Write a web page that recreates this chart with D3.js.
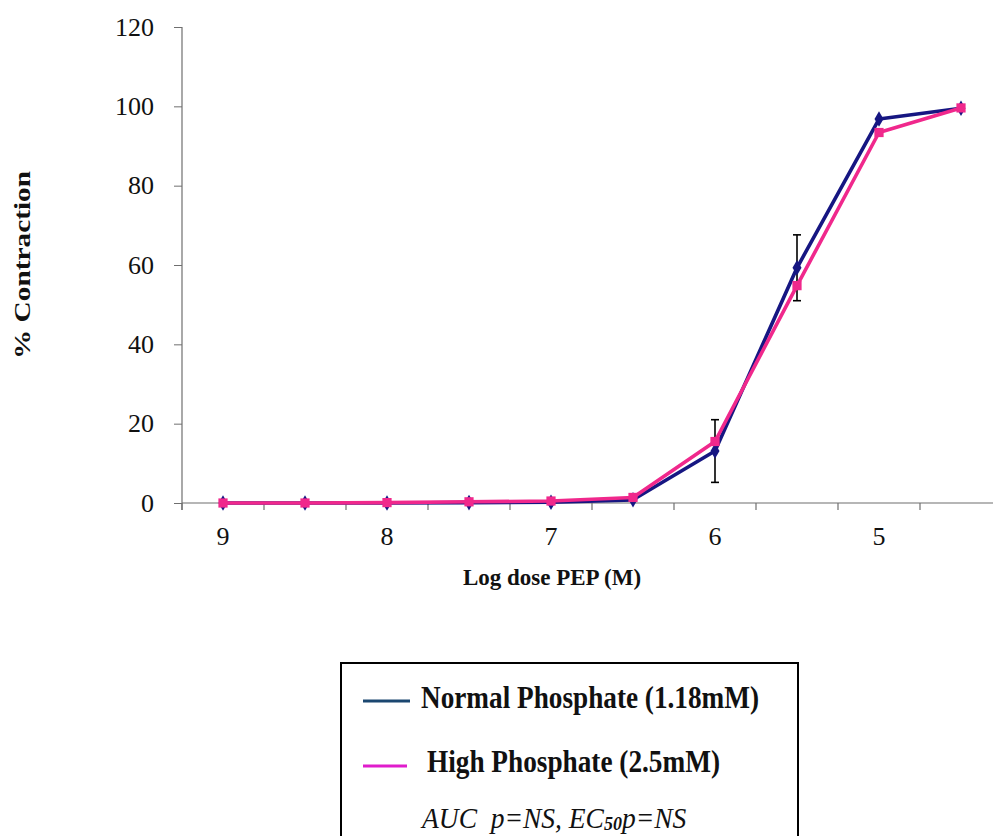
<!DOCTYPE html>
<html>
<head>
<meta charset="utf-8">
<script src="https://cdn.jsdelivr.net/npm/d3@7/dist/d3.min.js"></script>
<style>
  html, body { margin: 0; padding: 0; background: #ffffff; }
  svg { display: block; }
  text { font-family: "Liberation Serif", "Times New Roman", serif; fill: #111; }
</style>
</head>
<body>
<svg id="chart" width="993" height="836"></svg>
<script>
// Dose levels (-log M) and the labelled subset
const categories = ["9", "8.5", "8", "7.5", "7", "6.5", "6", "5.5", "5", "4.5"];
const xTickLabels = ["9", "8", "7", "6", "5"];
const yTicks = [0, 20, 40, 60, 80, 100, 120];

// % contraction for each dose
const normalPhosphate = [0, 0, 0, 0.1, 0.2, 0.8, 13.1, 59.3, 96.8, 99.5];
const highPhosphate   = [0, 0, 0.1, 0.3, 0.5, 1.4, 15.5, 54.8, 93.4, 99.6];
const normalSE        = [0, 0, 0, 0, 0, 0, 7.9, 8.3, 0, 0];

const seriesNames = ["Normal Phosphate (1.18mM)", "High Phosphate (2.5mM)"];

const SERIF = "'Liberation Serif', 'Times New Roman', serif";
const NAVY = "#161682", PINK = "#f0288c";
const LEG_NAVY = "#1b4770", LEG_PINK = "#e01ccc";
const AXIS = "#6f6f6f";

const svg = d3.select("#chart");

const x = d3.scaleBand().domain(categories).range([182, 1002]).paddingInner(0).paddingOuter(0);
const y = d3.scaleLinear().domain([0, 120]).range([503, 27]);
const cx = c => x(c) + x.bandwidth() / 2;

// Y axis
const yAxis = svg.append("g").attr("transform", "translate(182,0)")
  .call(d3.axisLeft(y).tickValues(yTicks).tickSize(8).tickPadding(20));
yAxis.select(".domain").remove();
yAxis.selectAll(".tick line").attr("stroke", AXIS);
yAxis.selectAll(".tick text")
  .style("font-family", SERIF)
  .attr("font-size", 26).attr("fill", "#111").attr("dy", "0.32em");
svg.append("line").attr("x1", 182).attr("x2", 182).attr("y1", y(120)).attr("y2", y(0) + 7)
  .attr("stroke", AXIS).attr("stroke-width", 1.2);

// X axis: line, boundary ticks, labels at category centres
svg.append("line").attr("x1", 182).attr("x2", 993).attr("y1", y(0)).attr("y2", y(0))
  .attr("stroke", AXIS).attr("stroke-width", 1.2);
const boundaries = categories.map(c => x(c)).concat([x.range()[1]]);
svg.append("g").selectAll("line").data(boundaries).join("line")
  .attr("x1", d => d).attr("x2", d => d).attr("y1", y(0)).attr("y2", y(0) + 7)
  .attr("stroke", AXIS).attr("stroke-width", 1.2);
svg.append("g").selectAll("text").data(xTickLabels).join("text")
  .attr("x", d => cx(d)).attr("y", 545).attr("text-anchor", "middle")
  .style("font-family", SERIF).attr("font-size", 26).text(d => d);

// Axis titles
svg.append("text").attr("x", 552).attr("y", 585).attr("text-anchor", "middle")
  .style("font-family", SERIF)
  .attr("font-size", 23).attr("font-weight", "bold").text("Log dose PEP (M)");
svg.append("text").attr("transform", "translate(30,265) rotate(-90)")
  .style("font-family", SERIF)
  .attr("text-anchor", "middle").attr("font-size", 23).attr("font-weight", "bold")
  .attr("textLength", 188).attr("lengthAdjust", "spacingAndGlyphs")
  .text("% Contraction");

// Error bars (normal phosphate)
const eb = svg.append("g").attr("stroke", "#000").attr("stroke-width", 1.6);
categories.forEach((c, i) => {
  const e = normalSE[i];
  if (!e) return;
  const v = normalPhosphate[i];
  eb.append("line").attr("x1", cx(c)).attr("x2", cx(c)).attr("y1", y(v + e)).attr("y2", y(v - e));
  eb.append("line").attr("x1", cx(c) - 4).attr("x2", cx(c) + 4).attr("y1", y(v + e)).attr("y2", y(v + e));
  eb.append("line").attr("x1", cx(c) - 4).attr("x2", cx(c) + 4).attr("y1", y(v - e)).attr("y2", y(v - e));
});

const line = d3.line().x(d => cx(d.c)).y(d => y(d.v));

function drawSeries(values, color, symbolType, size) {
  const pts = categories.map((c, i) => ({ c, v: values[i] }));
  svg.append("path").datum(pts).attr("d", line)
    .attr("fill", "none").attr("stroke", color).attr("stroke-width", 3.6)
    .attr("stroke-linejoin", "round");
  svg.append("g").selectAll("path").data(pts).join("path")
    .attr("transform", d => `translate(${cx(d.c)},${y(d.v)})`)
    .attr("d", d3.symbol().type(symbolType).size(size)())
    .attr("fill", color);
}

drawSeries(normalPhosphate, NAVY, d3.symbolDiamond, 70);
drawSeries(highPhosphate, PINK, d3.symbolSquare, 85);

// Legend box
svg.append("rect").attr("x", 341).attr("y", 663).attr("width", 457).attr("height", 200)
  .attr("fill", "none").attr("stroke", "#000").attr("stroke-width", 2);

svg.append("line").attr("x1", 363).attr("x2", 410).attr("y1", 701).attr("y2", 701)
  .attr("stroke", LEG_NAVY).attr("stroke-width", 3);
svg.append("line").attr("x1", 363).attr("x2", 407).attr("y1", 766).attr("y2", 766)
  .attr("stroke", LEG_PINK).attr("stroke-width", 3);

svg.append("text").attr("transform", "translate(421,708) scale(1,1.2)")
  .style("font-family", SERIF)
  .attr("font-size", 27).attr("font-weight", "bold")
  .attr("textLength", 338).attr("lengthAdjust", "spacingAndGlyphs")
  .text(seriesNames[0]);
svg.append("text").attr("transform", "translate(427,772) scale(1,1.2)")
  .style("font-family", SERIF)
  .attr("font-size", 27).attr("font-weight", "bold")
  .attr("textLength", 293).attr("lengthAdjust", "spacingAndGlyphs")
  .text(seriesNames[1]);

// Significance note
const stat = svg.append("text").attr("transform", "translate(422,828) scale(1,1.1)")
  .style("font-family", SERIF).style("white-space", "pre")
  .attr("font-size", 27.5).attr("font-style", "italic");
stat.append("tspan").text("AUC  p=NS, EC");
stat.append("tspan").attr("font-size", 18).attr("font-weight", "bold").attr("dy", 2).text("50");
stat.append("tspan").attr("dy", -2).text("p=NS");
</script>
</body>
</html>
